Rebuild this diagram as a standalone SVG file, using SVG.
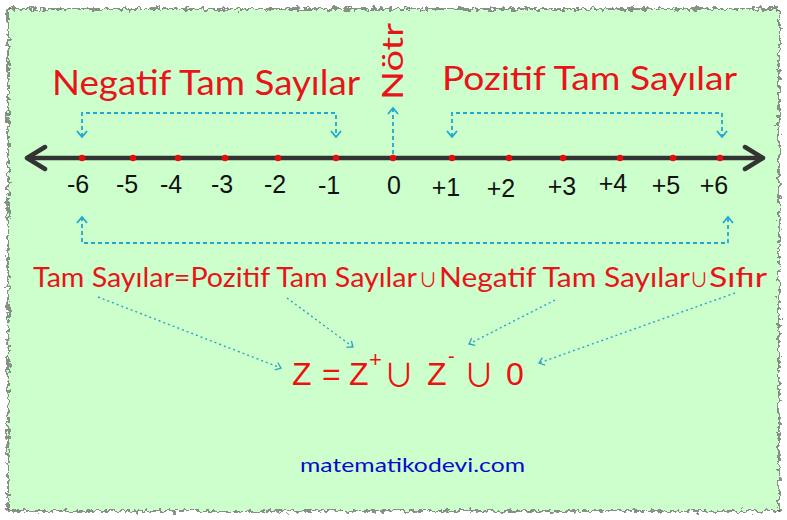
<svg xmlns="http://www.w3.org/2000/svg" width="787" height="520" viewBox="0 0 787 520">
<defs>
<filter id="rough" x="-3%" y="-3%" width="106%" height="106%">
<feTurbulence type="fractalNoise" baseFrequency="0.22" numOctaves="2" seed="3" result="t"/>
<feDisplacementMap in="SourceGraphic" in2="t" scale="9" xChannelSelector="R" yChannelSelector="G"/>
</filter>
<marker id="ch" markerUnits="userSpaceOnUse" markerWidth="8" markerHeight="12" viewBox="0 0 8 12" refX="7" refY="6" orient="auto-start-reverse">
<path d="M1,1 L7,6 L1,11" fill="none" stroke="#1fa8d0" stroke-width="1.8"/>
</marker>
<marker id="ch2" markerUnits="userSpaceOnUse" markerWidth="7" markerHeight="10" viewBox="0 0 7 10" refX="6" refY="5" orient="auto">
<path d="M1,1 L6,5 L1,9" fill="none" stroke="#2aa5c5" stroke-width="1.3"/>
</marker>
<marker id="big" markerUnits="userSpaceOnUse" markerWidth="24" markerHeight="28" viewBox="0 0 24 28" refX="21" refY="14" orient="auto-start-reverse">
<path d="M3,3 L21,14 L3,25" fill="none" stroke="#333" stroke-width="4.5" stroke-linecap="round" stroke-linejoin="round"/>
</marker>
</defs>
<style>
.hand{font-family:"Lato","Liberation Sans",sans-serif;fill:#e8141a;}
.num{font-family:"Liberation Sans",Arial,sans-serif;font-size:25px;fill:#111;text-anchor:middle;}
.dot{fill:#ee0a0a;}
.dash{fill:none;stroke:#1fa8d0;stroke-width:1.8;stroke-dasharray:4 3;}
.dotted{fill:none;stroke:#2aa5c5;stroke-width:1.4;stroke-dasharray:2 3;}
.zf{font-family:"Liberation Sans",Arial,sans-serif;fill:#ee1111;}
.cup{font-family:"Noto Sans CJK JP","DejaVu Sans",sans-serif;fill:#ee1111;text-anchor:middle;}
</style>
<rect width="787" height="520" fill="#ffffff"/>
<rect x="8" y="9" width="771" height="502" fill="#ccffcc" stroke="#555" stroke-width="1.3" filter="url(#rough)"/>

<g id="number-line">
<line x1="27" y1="158" x2="763" y2="158" stroke="#333" stroke-width="4.5" marker-start="url(#big)" marker-end="url(#big)"/>
<circle class="dot" cx="82" cy="158" r="3.2"/>
<circle class="dot" cx="133" cy="158" r="3.2"/>
<circle class="dot" cx="178" cy="158" r="3.2"/>
<circle class="dot" cx="225" cy="158" r="3.2"/>
<circle class="dot" cx="278" cy="158" r="3.2"/>
<circle class="dot" cx="336" cy="158" r="3.2"/>
<circle class="dot" cx="393" cy="158" r="3.2"/>
<circle class="dot" cx="452" cy="158" r="3.2"/>
<circle class="dot" cx="509" cy="158" r="3.2"/>
<circle class="dot" cx="563" cy="158" r="3.2"/>
<circle class="dot" cx="620" cy="158" r="3.2"/>
<circle class="dot" cx="673" cy="158" r="3.2"/>
<circle class="dot" cx="720" cy="158" r="3.2"/>
</g>

<g id="labels">
<text class="num" x="78" y="193">-6</text>
<text class="num" x="127" y="193">-5</text>
<text class="num" x="171" y="193">-4</text>
<text class="num" x="222" y="193">-3</text>
<text class="num" x="275" y="193">-2</text>
<text class="num" x="329" y="194">-1</text>
<text class="num" x="394" y="194">0</text>
<text class="num" x="446" y="196">+1</text>
<text class="num" x="501" y="197">+2</text>
<text class="num" x="562" y="195">+3</text>
<text class="num" x="613" y="192">+4</text>
<text class="num" x="666" y="194">+5</text>
<text class="num" x="714" y="194">+6</text>
</g>

<g id="title-negative"><text class="hand" x="52" y="95" font-size="34" textLength="308" lengthAdjust="spacingAndGlyphs">Negatif Tam Sayılar</text></g>
<g id="title-positive"><text class="hand" x="442" y="90" font-size="33" textLength="295" lengthAdjust="spacingAndGlyphs">Pozitif Tam Sayılar</text></g>
<g id="title-notr"><text class="hand" transform="translate(403,100) rotate(-90)" x="0" y="0" font-size="29" textLength="77" lengthAdjust="spacingAndGlyphs">Nötr</text></g>

<g id="formula-words">
<text class="hand" x="33" y="287" font-size="27" textLength="384" lengthAdjust="spacingAndGlyphs">Tam Sayılar=Pozitif Tam Sayılar</text>
<text class="cup" x="428" y="287" font-size="19">∪</text>
<text class="hand" x="439" y="287" font-size="27" textLength="251" lengthAdjust="spacingAndGlyphs">Negatif Tam Sayılar</text>
<text class="cup" x="699" y="287" font-size="19">∪</text>
<text class="hand" x="709" y="287" font-size="27" textLength="58" lengthAdjust="spacingAndGlyphs">Sıfır</text>
</g>

<g id="formula-z">
<text class="zf" x="292" y="385" font-size="32">Z</text>
<text class="zf" x="322" y="385" font-size="32">=</text>
<text class="zf" x="349" y="385" font-size="32">Z</text>
<text class="zf" x="369" y="367" font-size="22">+</text>
<text class="cup" x="399" y="386" font-size="31">∪</text>
<text class="zf" x="427" y="385" font-size="32">Z</text>
<text class="zf" x="448" y="363" font-size="20">-</text>
<text class="cup" x="479" y="386" font-size="31">∪</text>
<text class="zf" x="506" y="385" font-size="32">0</text>
</g>

<g id="site"><text x="300" y="472" font-family="Lato,'Liberation Sans',sans-serif" font-size="20" fill="#0a0acc" textLength="225" lengthAdjust="spacingAndGlyphs">matematikodevi.com</text></g>

<g id="connectors">
<path class="dash" d="M82,137 V113 H336 V137" marker-start="url(#ch)" marker-end="url(#ch)"/>
<path class="dash" d="M452,137 V113 H722 V137" marker-start="url(#ch)" marker-end="url(#ch)"/>
<path class="dash" d="M393,154 V108" marker-end="url(#ch)"/>
<path class="dash" d="M82,217 V243 H728 V217" marker-start="url(#ch)" marker-end="url(#ch)"/>
<path class="dotted" d="M98,297 L281,368" marker-end="url(#ch2)"/>
<path class="dotted" d="M287,298 L353,347" marker-end="url(#ch2)"/>
<path class="dotted" d="M555,300 L469,344" marker-end="url(#ch2)"/>
<path class="dotted" d="M735,293 L539,363" marker-end="url(#ch2)"/>
</g>
</svg>
